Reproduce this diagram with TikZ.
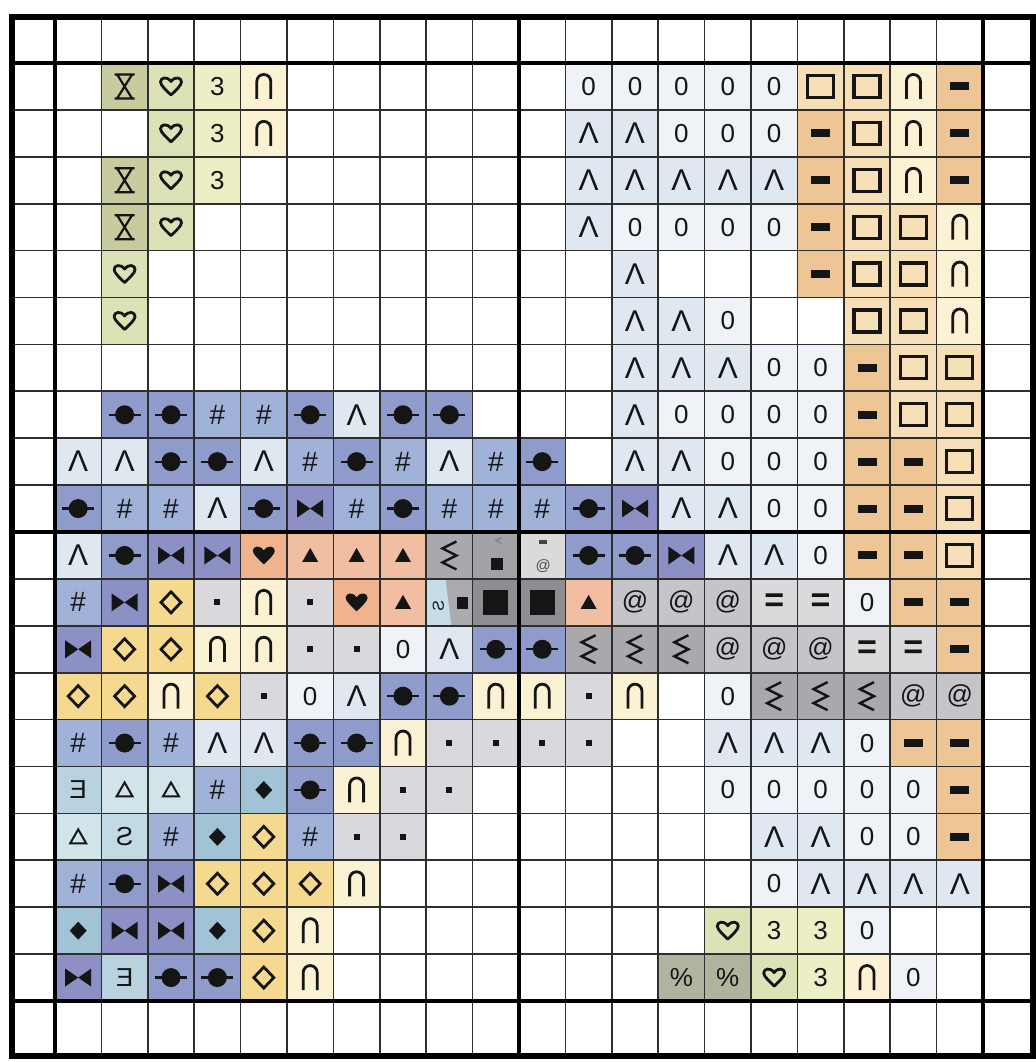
\documentclass[tikz,border=0pt]{standalone}
\usepackage{fontspec}
\setmainfont{Liberation Sans}
\usepackage{graphicx}
\definecolor{cf-hg}{HTML}{C8CB9E}
\definecolor{cf-ho}{HTML}{DCE1B6}
\definecolor{cf-three}{HTML}{ECEEC6}
\definecolor{cf-cap}{HTML}{FAF2D2}
\definecolor{cf-zero}{HTML}{EFF2F6}
\definecolor{cf-wedge}{HTML}{DFE7F0}
\definecolor{cf-sq}{HTML}{F6DFB6}
\definecolor{cf-bar}{HTML}{EEC594}
\definecolor{cf-dotl}{HTML}{8F9CCB}
\definecolor{cf-hash}{HTML}{A0B2D8}
\definecolor{cf-bow}{HTML}{8C90C5}
\definecolor{cf-heart}{HTML}{EFB38E}
\definecolor{cf-tri}{HTML}{F1BEA2}
\definecolor{cf-dia}{HTML}{F5D98F}
\definecolor{cf-dot}{HTML}{D9D9DD}
\definecolor{cf-at}{HTML}{C5C5C9}
\definecolor{cf-eq}{HTML}{DADADC}
\definecolor{cf-zz}{HTML}{A9A9AD}
\definecolor{cf-bsq}{HTML}{8E8E92}
\definecolor{cf-rE}{HTML}{B8D3DF}
\definecolor{cf-ttri}{HTML}{D0E4EA}
\definecolor{cf-fdia}{HTML}{A0C4D6}
\definecolor{cf-rS}{HTML}{C2DAE3}
\definecolor{cf-pct}{HTML}{B0B49F}
\definecolor{cf-spA}{HTML}{A2A2A6}
\definecolor{cf-spB}{HTML}{DADADA}
\definecolor{cf-spC}{HTML}{ABABAF}
\definecolor{spCblue}{HTML}{C6DCE8}
\definecolor{ink}{HTML}{151515}
\definecolor{gridc}{HTML}{2E2E2E}
\tikzset{
  sym/.style={draw=ink, line width=1.1pt, line join=miter},
  symt/.style={draw=ink, line width=1.4pt, line join=miter},
  txt/.style={inner sep=0pt, text=ink},
  thin grid/.style={draw=gridc, line width=0.85pt},
  thick grid/.style={draw=black, line width=2pt},
  pics/sy-hg/.style={code={\draw[sym] (-10,-12)--(10,-12) (-10,12)--(10,12) (-7.5,-12)--(7.5,12) (7.5,-12)--(-7.5,12);}},
  pics/sy-ho/.style={code={\draw[symt,line join=round] (0,8.5) .. controls (-4,4.5) and (-10.5,-1) .. (-10.5,-4.5) .. controls (-10.5,-9) and (-4,-10.5) .. (0,-5) .. controls (4,-10.5) and (10.5,-9) .. (10.5,-4.5) .. controls (10.5,-1) and (4,4.5) .. (0,8.5) -- cycle;}},
  pics/sy-heart/.style={code={\fill[ink] (0,9) .. controls (-4,5) and (-11,-1) .. (-11,-4.5) .. controls (-11,-9.5) and (-4,-11) .. (0,-5) .. controls (4,-11) and (11,-9.5) .. (11,-4.5) .. controls (11,-1) and (4,5) .. (0,9) -- cycle;}},
  pics/sy-three/.style={code={\node[txt,font=\fontsize{13}{13}\selectfont] (-t) {3};}},
  pics/sy-cap/.style={code={\draw[symt] (-7,12.5) -- (-7,-5) arc[start angle=180,end angle=360,radius=7] -- (7,12.5);}},
  pics/sy-zero/.style={code={\node[txt,font=\fontsize{13}{13}\selectfont] (-t) {0};}},
  pics/sy-wedge/.style={code={\node[txt,font=\fontsize{15}{15}\selectfont] (-t) {Λ};}},
  pics/sy-sq/.style={code={\draw[symt,line width=1.6pt] (-13,-11) rectangle (13,11);}},
  pics/sy-bar/.style={code={\fill[ink] (-9.5,-4) rectangle (9.5,4);}},
  pics/sy-dotl/.style={code={\draw[ink,line width=1.1pt] (-16,0)--(16,0); \fill[ink] (0,0) circle (9.5);}},
  pics/sy-hash/.style={code={\node[txt,font=\fontsize{14}{14}\selectfont] (-t) {\#};}},
  pics/sy-bow/.style={code={\fill[ink] (-13,-9)--(0,0)--(-13,9)--cycle (13,-9)--(0,0)--(13,9)--cycle;}},
  pics/sy-tri/.style={code={\fill[ink] (-8,6.5)--(8,6.5)--(0,-7.5)--cycle;}},
  pics/sy-dia/.style={code={\draw[symt] (0,-10.5)--(10,0)--(0,10.5)--(-10,0)--cycle;}},
  pics/sy-dot/.style={code={\fill[ink] (-3,-3) rectangle (3,3);}},
  pics/sy-at/.style={code={\node[txt,font=\fontsize{13}{13}\selectfont] (-t) {@};}},
  pics/sy-eq/.style={code={\node[txt,font=\fontsize{17}{17}\bfseries\selectfont] (-t) {=};}},
  pics/sy-zz/.style={code={\draw[sym,line width=1.2pt] (7,-14)--(-7,-7)--(7,0)--(-7,7)--(7,14);}},
  pics/sy-bsq/.style={code={\fill[ink] (-12.5,-12.5) rectangle (12.5,12.5);}},
  pics/sy-rE/.style={code={\node[txt,font=\fontsize{13}{13}\selectfont] (-t) {\reflectbox{E}};}},
  pics/sy-ttri/.style={code={\draw[sym,line width=1pt] (-8,6.5)--(8,6.5)--(0,-7.5)--cycle;}},
  pics/sy-fdia/.style={code={\fill[ink] (0,-9)--(8.5,0)--(0,9)--(-8.5,0)--cycle;}},
  pics/sy-rS/.style={code={\node[txt,font=\fontsize{13}{13}\selectfont] (-t) {\reflectbox{S}};}},
  pics/sy-pct/.style={code={\node[txt,font=\fontsize{13}{13}\selectfont] (-t) {\%};}},
  pics/sy-spA/.style={code={\draw[ink!55,line width=0.6pt] (6,-18)--(0,-15)--(6,-12); \fill[ink] (-5,3) rectangle (7,15);}},
  pics/sy-spB/.style={code={\fill[ink!80] (-3,-15) rectangle (5,-11); \node[txt,text=ink!75,font=\fontsize{7.5}{7.5}\selectfont] (-t) at (1,11) {@};}},
  pics/sy-spC/.style={code={\fill[spCblue] (-23.2,-23.45)--(-4,-23.45)--(2,23.45)--(-23.2,23.45)--cycle; \node[txt,font=\fontsize{8}{8}\selectfont,rotate=90] (-t) at (-11,3) {\reflectbox{S}}; \fill[ink] (8,-5) rectangle (19,7);}},
}
\begin{document}
\begin{tikzpicture}[x=0.5pt,y=-0.5pt]
\fill[white] (0,0) rectangle (1036,1062);
\useasboundingbox (0,0) rectangle (1036,1062);
\foreach \r/\lst in {
 0/{1/hg,2/ho,3/three,4/cap,11/zero,12/zero,13/zero,14/zero,15/zero,16/sq,17/sq,18/cap,19/bar},
 1/{2/ho,3/three,4/cap,11/wedge,12/wedge,13/zero,14/zero,15/zero,16/bar,17/sq,18/cap,19/bar},
 2/{1/hg,2/ho,3/three,11/wedge,12/wedge,13/wedge,14/wedge,15/wedge,16/bar,17/sq,18/cap,19/bar},
 3/{1/hg,2/ho,11/wedge,12/zero,13/zero,14/zero,15/zero,16/bar,17/sq,18/sq,19/cap},
 4/{1/ho,12/wedge,16/bar,17/sq,18/sq,19/cap},
 5/{1/ho,12/wedge,13/wedge,14/zero,17/sq,18/sq,19/cap},
 6/{12/wedge,13/wedge,14/wedge,15/zero,16/zero,17/bar,18/sq,19/sq},
 7/{1/dotl,2/dotl,3/hash,4/hash,5/dotl,6/wedge,7/dotl,8/dotl,12/wedge,13/zero,14/zero,15/zero,16/zero,17/bar,18/sq,19/sq},
 8/{0/wedge,1/wedge,2/dotl,3/dotl,4/wedge,5/hash,6/dotl,7/hash,8/wedge,9/hash,10/dotl,12/wedge,13/wedge,14/zero,15/zero,16/zero,17/bar,18/bar,19/sq},
 9/{0/dotl,1/hash,2/hash,3/wedge,4/dotl,5/bow,6/hash,7/dotl,8/hash,9/hash,10/hash,11/dotl,12/bow,13/wedge,14/wedge,15/zero,16/zero,17/bar,18/bar,19/sq},
 10/{0/wedge,1/dotl,2/bow,3/bow,4/heart,5/tri,6/tri,7/tri,8/zz,9/spA,10/spB,11/dotl,12/dotl,13/bow,14/wedge,15/wedge,16/zero,17/bar,18/bar,19/sq},
 11/{0/hash,1/bow,2/dia,3/dot,4/cap,5/dot,6/heart,7/tri,8/spC,9/bsq,10/bsq,11/tri,12/at,13/at,14/at,15/eq,16/eq,17/zero,18/bar,19/bar},
 12/{0/bow,1/dia,2/dia,3/cap,4/cap,5/dot,6/dot,7/zero,8/wedge,9/dotl,10/dotl,11/zz,12/zz,13/zz,14/at,15/at,16/at,17/eq,18/eq,19/bar},
 13/{0/dia,1/dia,2/cap,3/dia,4/dot,5/zero,6/wedge,7/dotl,8/dotl,9/cap,10/cap,11/dot,12/cap,14/zero,15/zz,16/zz,17/zz,18/at,19/at},
 14/{0/hash,1/dotl,2/hash,3/wedge,4/wedge,5/dotl,6/dotl,7/cap,8/dot,9/dot,10/dot,11/dot,14/wedge,15/wedge,16/wedge,17/zero,18/bar,19/bar},
 15/{0/rE,1/ttri,2/ttri,3/hash,4/fdia,5/dotl,6/cap,7/dot,8/dot,14/zero,15/zero,16/zero,17/zero,18/zero,19/bar},
 16/{0/ttri,1/rS,2/hash,3/fdia,4/dia,5/hash,6/dot,7/dot,15/wedge,16/wedge,17/zero,18/zero,19/bar},
 17/{0/hash,1/dotl,2/bow,3/dia,4/dia,5/dia,6/cap,15/zero,16/wedge,17/wedge,18/wedge,19/wedge},
 18/{0/fdia,1/bow,2/bow,3/fdia,4/dia,5/cap,14/ho,15/three,16/three,17/zero},
 19/{0/bow,1/rE,2/dotl,3/dotl,4/dia,5/cap,13/pct,14/pct,15/ho,16/three,17/cap,18/zero}%
}{
  \foreach \c/\s in \lst {
    \fill[cf-\s] ({55+46.4*\c},{63+46.9*\r}) rectangle ++(46.4,46.9);
    \pic (p-\r-\c) at ({55+46.4*(\c+0.5)},{63+46.9*(\r+0.5)}) {sy-\s};
  }
}
% thin grid
\foreach \k in {1,...,9,11,12,...,19} {
  \draw[thin grid] ({55+46.4*\k},17) -- ({55+46.4*\k},1056);
  \draw[thin grid] (12,{63+46.9*\k}) -- (1033,{63+46.9*\k});
}
% thick grid
\foreach \k in {0,10,20} {
  \draw[thick grid] ({55+46.4*\k},17) -- ({55+46.4*\k},1056);
  \draw[thick grid] (12,{63+46.9*\k}) -- (1033,{63+46.9*\k});
}
\draw[black,line width=2.8pt] (12,17) rectangle (1033,1056);
\end{tikzpicture}
\end{document}
